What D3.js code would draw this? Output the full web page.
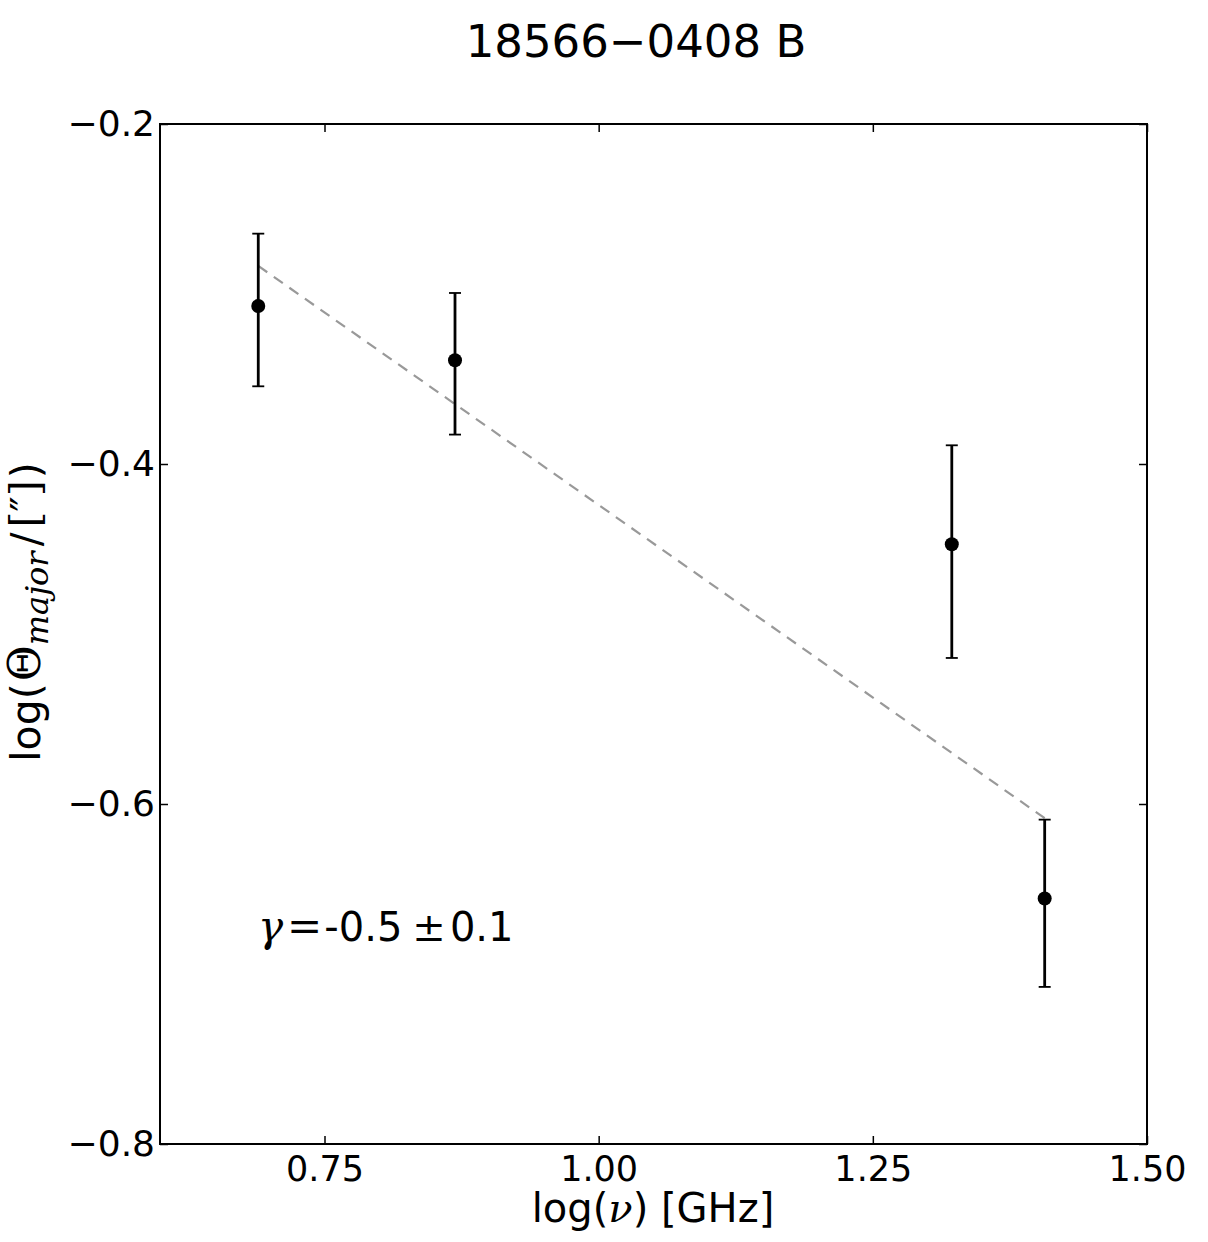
<!DOCTYPE html>
<html>
<head>
<meta charset="utf-8">
<script src="https://cdn.jsdelivr.net/npm/d3@7"></script>
<style>
  body { margin: 0; background: #fff; }
  text { font-family: "DejaVu Sans", sans-serif; fill: #000; }
</style>
</head>
<body>
<svg id="chart" width="1208" height="1242"></svg>
<script>
// data
let logNu = [0.6896, 0.869, 1.322, 1.4067];
let logTheta = [-0.3071, -0.339, -0.4472, -0.6556];
let errUp = [0.0426, 0.0396, 0.0582, 0.0464];
let errDown = [0.0472, 0.0437, 0.0669, 0.052];
let fitSlope = -0.453;
let fitIntercept = 0.0289;
let xTicks = [0.75, 1.00, 1.25, 1.50];
let yTicks = [-0.8, -0.6, -0.4, -0.2];
let title = '18566\u22120408 B';

let svg = d3.select('#chart');
let margin = {left: 160, top: 124, right: 1147, bottom: 1144};

let sx = d3.scaleLinear().domain([0.6, 1.5]).range([margin.left, margin.right]);
let sy = d3.scaleLinear().domain([-0.8, -0.2]).range([margin.bottom, margin.top]);

let fmtY = d => d3.format('.1f')(d).replace('-', '\u2212');
let tickLen = 8;

// axes (ticks pointing inwards, on all sides)
svg.append('g')
  .attr('transform', `translate(0,${margin.bottom})`)
  .call(d3.axisBottom(sx).tickValues(xTicks).tickSize(-tickLen).tickFormat(d3.format('.2f')).tickPadding(12))
  .call(g => g.select('.domain').remove())
  .call(g => g.selectAll('text').attr('font-size', 35).attr('font-family', 'DejaVu Sans'));

svg.append('g')
  .attr('transform', `translate(0,${margin.top})`)
  .call(d3.axisTop(sx).tickValues(xTicks).tickSize(-tickLen).tickFormat(''))
  .call(g => g.select('.domain').remove());

svg.append('g')
  .attr('transform', `translate(${margin.left},0)`)
  .call(d3.axisLeft(sy).tickValues(yTicks).tickSize(-tickLen).tickFormat(fmtY).tickPadding(5))
  .call(g => g.select('.domain').remove())
  .call(g => g.selectAll('text').attr('font-size', 36).attr('font-family', 'DejaVu Sans'));

svg.append('g')
  .attr('transform', `translate(${margin.right},0)`)
  .call(d3.axisRight(sy).tickValues(yTicks).tickSize(-tickLen).tickFormat(''))
  .call(g => g.select('.domain').remove());

svg.selectAll('.tick line').attr('stroke', '#000').attr('stroke-width', 1.5);

svg.append('rect')
  .attr('x', margin.left).attr('y', margin.top)
  .attr('width', margin.right - margin.left)
  .attr('height', margin.bottom - margin.top)
  .attr('fill', 'none').attr('stroke', '#000').attr('stroke-width', 2);

// fit line
let xr = d3.extent(logNu);
svg.append('line')
  .attr('x1', sx(xr[0])).attr('y1', sy(fitSlope * xr[0] + fitIntercept))
  .attr('x2', sx(xr[1])).attr('y2', sy(fitSlope * xr[1] + fitIntercept))
  .attr('stroke', '#999').attr('stroke-width', 2.2)
  .attr('stroke-dasharray', '11,8');

// error bars
let pts = logNu.map((x, i) => ({x: x, y: logTheta[i], up: errUp[i], dn: errDown[i]}));
let capW = 6;

svg.selectAll('.ebar').data(pts).enter().append('line')
  .attr('class', 'ebar')
  .attr('x1', d => sx(d.x)).attr('x2', d => sx(d.x))
  .attr('y1', d => sy(d.y + d.up)).attr('y2', d => sy(d.y - d.dn))
  .attr('stroke', '#000').attr('stroke-width', 2.8);

svg.selectAll('.capTop').data(pts).enter().append('line')
  .attr('class', 'capTop')
  .attr('x1', d => sx(d.x) - capW).attr('x2', d => sx(d.x) + capW)
  .attr('y1', d => sy(d.y + d.up)).attr('y2', d => sy(d.y + d.up))
  .attr('stroke', '#000').attr('stroke-width', 1.8);

svg.selectAll('.capBot').data(pts).enter().append('line')
  .attr('class', 'capBot')
  .attr('x1', d => sx(d.x) - capW).attr('x2', d => sx(d.x) + capW)
  .attr('y1', d => sy(d.y - d.dn)).attr('y2', d => sy(d.y - d.dn))
  .attr('stroke', '#000').attr('stroke-width', 1.8);

svg.selectAll('.pt').data(pts).enter().append('circle')
  .attr('class', 'pt')
  .attr('cx', d => sx(d.x)).attr('cy', d => sy(d.y))
  .attr('r', 7).attr('fill', '#000');

// title
svg.append('text')
  .attr('x', 636).attr('y', 57)
  .attr('text-anchor', 'middle').attr('font-size', 45)
  .text(title);

// x label
let xl = svg.append('text')
  .attr('x', 653).attr('y', 1222)
  .attr('text-anchor', 'middle').attr('font-size', 40);
xl.append('tspan').text('log(');
xl.append('tspan').attr('font-family', 'DejaVu Serif').attr('font-style', 'italic').text('\u03bd');
xl.append('tspan').text(') [GHz]');

// y label
let yl = svg.append('text')
  .attr('transform', 'translate(40,612) rotate(-90)')
  .attr('text-anchor', 'middle').attr('font-size', 41);
yl.append('tspan').text('log(');
yl.append('tspan').attr('font-family', 'DejaVu Serif').attr('font-size', 44).attr('dx', 2).text('\u0398');
yl.append('tspan').attr('font-family', 'DejaVu Serif').attr('font-style', 'italic')
  .attr('font-size', 32).attr('dy', 8).text('major');
yl.append('tspan').attr('font-family', 'DejaVu Serif').attr('dy', -8).attr('dx', 5).text('/');
yl.append('tspan').attr('font-family', 'DejaVu Serif').attr('dx', 5).text('[\u2033]');
yl.append('tspan').attr('dx', 2).text(')');

// annotation
let ann = svg.append('text')
  .attr('x', 258).attr('y', 941).attr('font-size', 40);
ann.append('tspan').attr('font-family', 'DejaVu Serif').attr('font-style', 'italic').attr('font-size', 42).text('\u03b3');
ann.append('tspan').attr('font-family', 'DejaVu Serif').attr('dx', 4).attr('font-size', 42).text('=');
ann.append('tspan').attr('dx', 2).text('-0.5');
ann.append('tspan').attr('font-family', 'DejaVu Serif').attr('dx', 10).text('\u00b1');
ann.append('tspan').attr('dx', 4).text('0.1');
</script>
</body>
</html>
